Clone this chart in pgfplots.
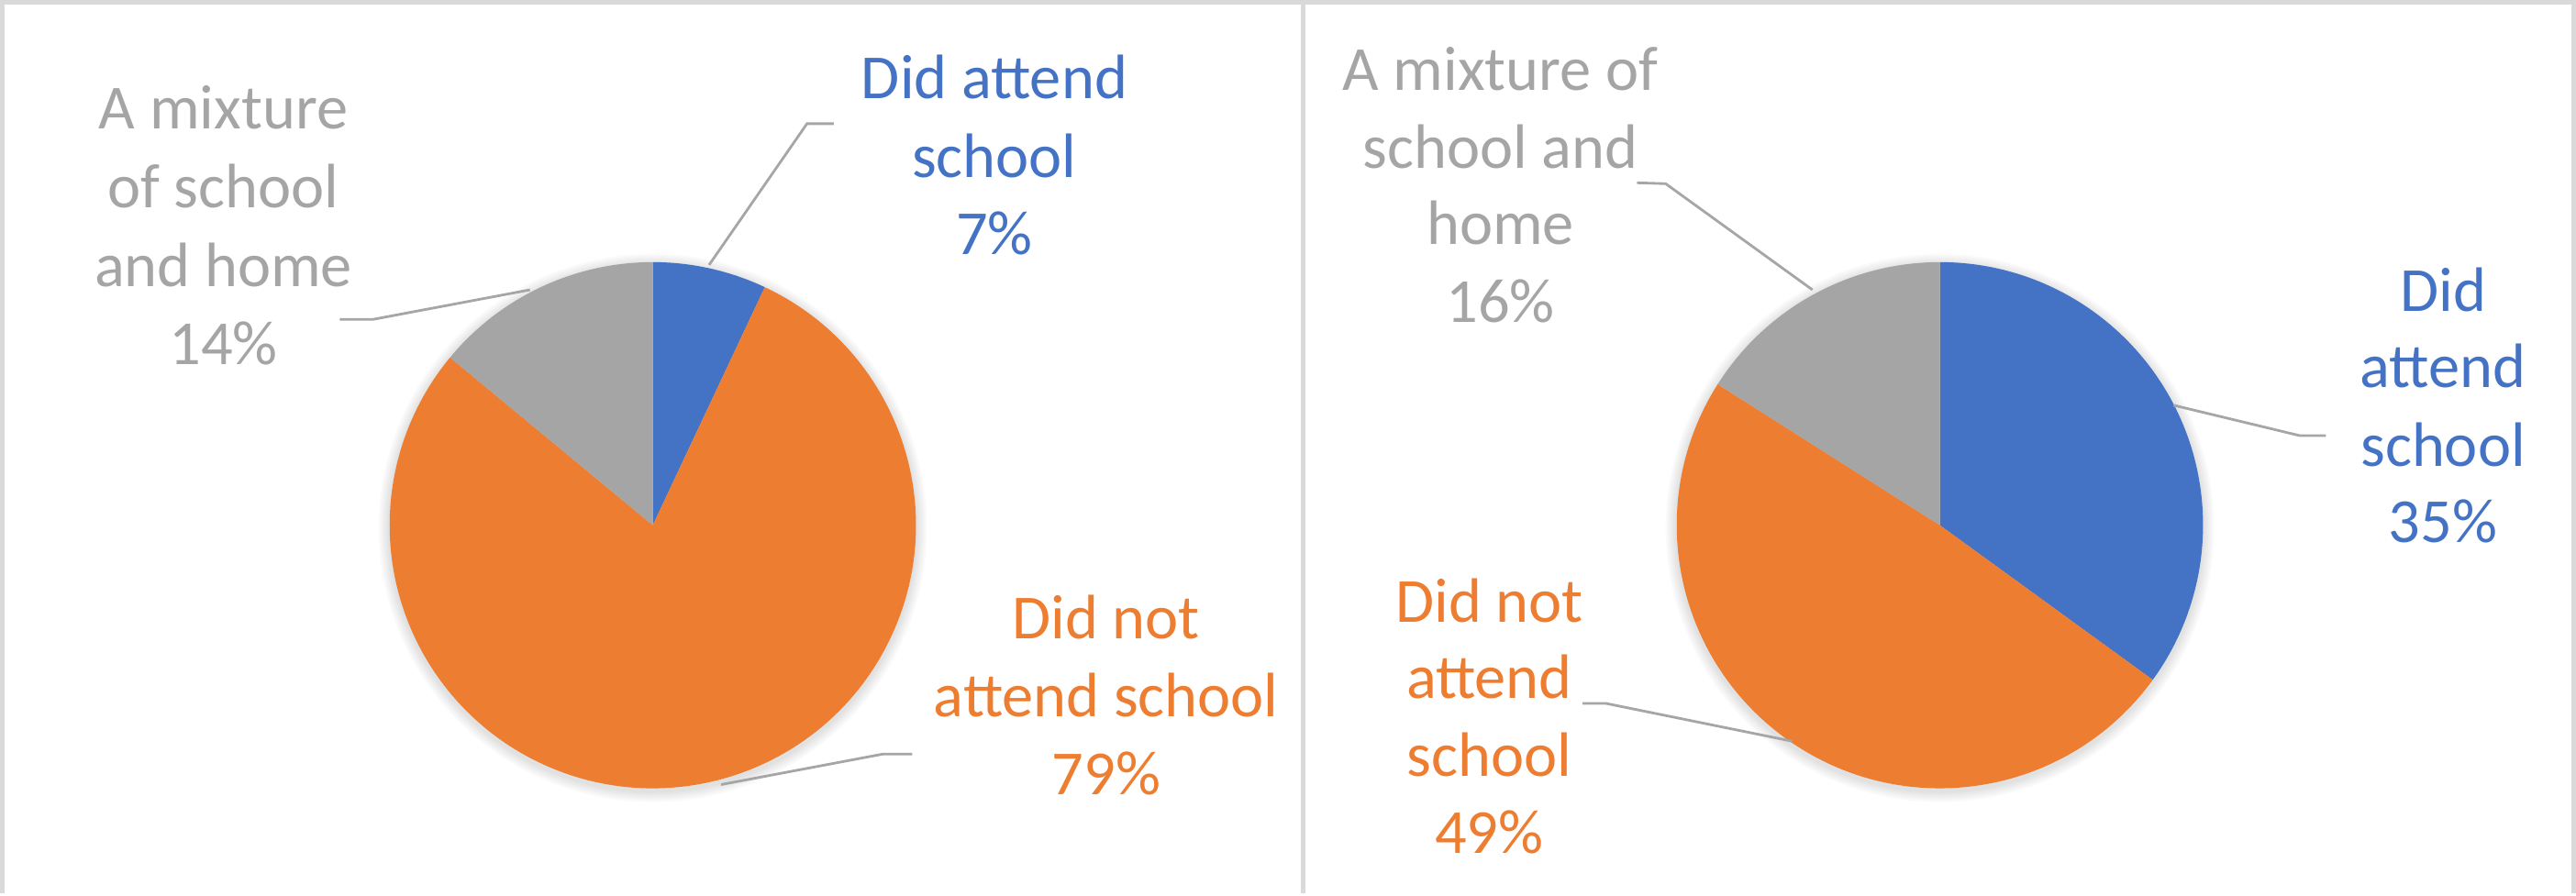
\documentclass[border=0pt]{standalone}
\usepackage{pgfplots}
\pgfplotsset{compat=1.18}
\usepackage{fontspec}
\setmainfont{Carlito}

\definecolor{cblue}{HTML}{4472C4}
\definecolor{corange}{HTML}{ED7D31}
\definecolor{cgray}{HTML}{A5A5A5}
\definecolor{cframe}{HTML}{D9D9D9}
\definecolor{cleader}{HTML}{A6A6A6}

% 1 px of the reference = 0.25pt
\def\R{71.25pt}
% slice: cx, cy, percent before, percent, colour
\newcommand\slice[5]{%
  \fill[#5] (axis cs:#1,#2) -- ++({90-3.6*#3}:\R)
    arc[start angle={90-3.6*#3}, end angle={90-3.6*(#3+#4)}, radius=\R] -- cycle;}
% soft shadow round a pie
\newcommand\shadowring[3]{\fill[black, opacity=0.018] (axis cs:#1,#2) circle[radius=\R+#3];}
\newcommand\shadow[2]{%
  \shadowring{#1}{#2}{3pt}\shadowring{#1}{#2}{2.5pt}\shadowring{#1}{#2}{2pt}%
  \shadowring{#1}{#2}{1.5pt}\shadowring{#1}{#2}{1pt}\shadowring{#1}{#2}{0.5pt}}
% one label line, anchored at its baseline
\newcommand\lbl[4]{\node[anchor=base, text=#3, inner sep=0pt] at (axis cs:#1,#2) {#4};}

\begin{document}
\begin{tikzpicture}
\begin{axis}[
    hide axis, scale only axis, clip=false,
    width=702pt, height=245pt,
    xmin=0, xmax=2808, ymin=0, ymax=980, y dir=reverse,
    font=\fontsize{17}{21}\selectfont,
]
% frame
\draw[cframe, line width=1.25pt] (axis cs:11.5,980) -- (axis cs:11.5,14.5)
   -- (axis cs:2796.5,14.5) -- (axis cs:2796.5,980);
\draw[cframe, line width=1.25pt] (axis cs:1420.5,14.5) -- (axis cs:1420.5,980);

% left pie: 7 / 79 / 14
\shadow{716}{584}
\slice{716}{581}{0}{7}{cblue}
\slice{716}{581}{7}{79}{corange}
\slice{716}{581}{86}{14}{cgray}

% right pie: 35 / 49 / 16
\shadow{2110}{584}
\slice{2110}{581}{0}{35}{cblue}
\slice{2110}{581}{35}{49}{corange}
\slice{2110}{581}{84}{16}{cgray}

% leader lines
\draw[cleader, line width=0.7pt] (axis cs:777,299) -- (axis cs:883,146) -- (axis cs:912,146);
\draw[cleader, line width=0.7pt] (axis cs:377,358) -- (axis cs:413,358) -- (axis cs:583,326);
\draw[cleader, line width=0.7pt] (axis cs:790,862) -- (axis cs:965,829) -- (axis cs:997,829);
\draw[cleader, line width=0.7pt] (axis cs:1782,210) -- (axis cs:1813,211) -- (axis cs:1972,326);
\draw[cleader, line width=0.7pt] (axis cs:2363,451) -- (axis cs:2500,484) -- (axis cs:2528,484);
\draw[cleader, line width=0.7pt] (axis cs:1723,774) -- (axis cs:1748,774) -- (axis cs:1950,815);

% left labels
\lbl{1086}{119}{cblue}{Did attend}
\lbl{1086}{204}{cblue}{school}
\lbl{1086}{288}{cblue}{7\%}
\lbl{251}{152}{cgray}{A mixture}
\lbl{251}{237}{cgray}{of school}
\lbl{251}{322}{cgray}{and home}
\lbl{251}{407}{cgray}{14\%}
\lbl{1207}{704}{corange}{Did not}
\lbl{1207}{788}{corange}{attend school}
\lbl{1207}{873}{corange}{79\%}

% right labels
\lbl{1634}{110}{cgray}{A mixture of}
\lbl{1634}{194}{cgray}{school and}
\lbl{1634}{277}{cgray}{home}
\lbl{1634}{361}{cgray}{16\%}
\lbl{2655}{349}{cblue}{Did}
\lbl{2655}{432}{cblue}{attend}
\lbl{2655}{517}{cblue}{school}
\lbl{2655}{600}{cblue}{35\%}
\lbl{1622}{686}{corange}{Did not}
\lbl{1622}{769}{corange}{attend}
\lbl{1622}{853}{corange}{school}
\lbl{1622}{937}{corange}{49\%}
\end{axis}
\end{tikzpicture}
\end{document}
